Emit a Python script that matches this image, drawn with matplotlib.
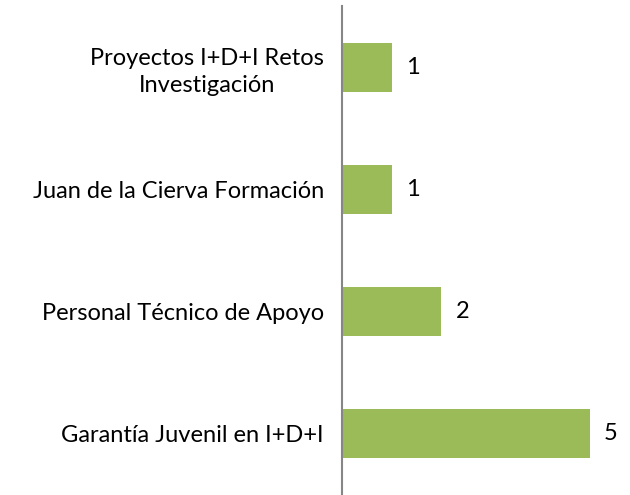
import matplotlib.pyplot as plt
import numpy as np

plt.rcParams['font.family'] = ['Lato', 'DejaVu Sans']

categorias = ["Garantía Juvenil en I+D+I",
              "Personal Técnico de Apoyo",
              "Juan de la Cierva Formación",
              "Proyectos I+D+I Retos\nInvestigación"]
valores = [5, 2, 1, 1]

y = np.arange(len(categorias))

fig = plt.figure(figsize=(6.3, 4.95), dpi=100)
ax = fig.add_axes([342 / 630, 0, 288 / 630, 489 / 495])

bars = ax.barh(y, valores, height=0.4, color='#9BBB59')

for bar, v in zip(bars, valores):
    ax.annotate(f'{v}', (bar.get_width(), bar.get_y() + bar.get_height() / 2),
                xytext=(21, 0), textcoords='offset pixels',
                ha='center', va='center', fontsize=17)

ax.set_xlim(0, 288 / 49.6)
ax.set_ylim(-0.5, len(categorias) - 0.5)
ax.set_yticks(y)
ax.set_yticklabels(categorias, fontsize=17, multialignment='center', linespacing=1.35)
ax.tick_params(axis='y', length=0, pad=13)
ax.set_xticks([])

for s in ['top', 'right', 'bottom']:
    ax.spines[s].set_visible(False)
ax.spines['left'].set_color('#868686')
ax.spines['left'].set_linewidth(1.5)

fig.savefig('out.png', dpi=100)
